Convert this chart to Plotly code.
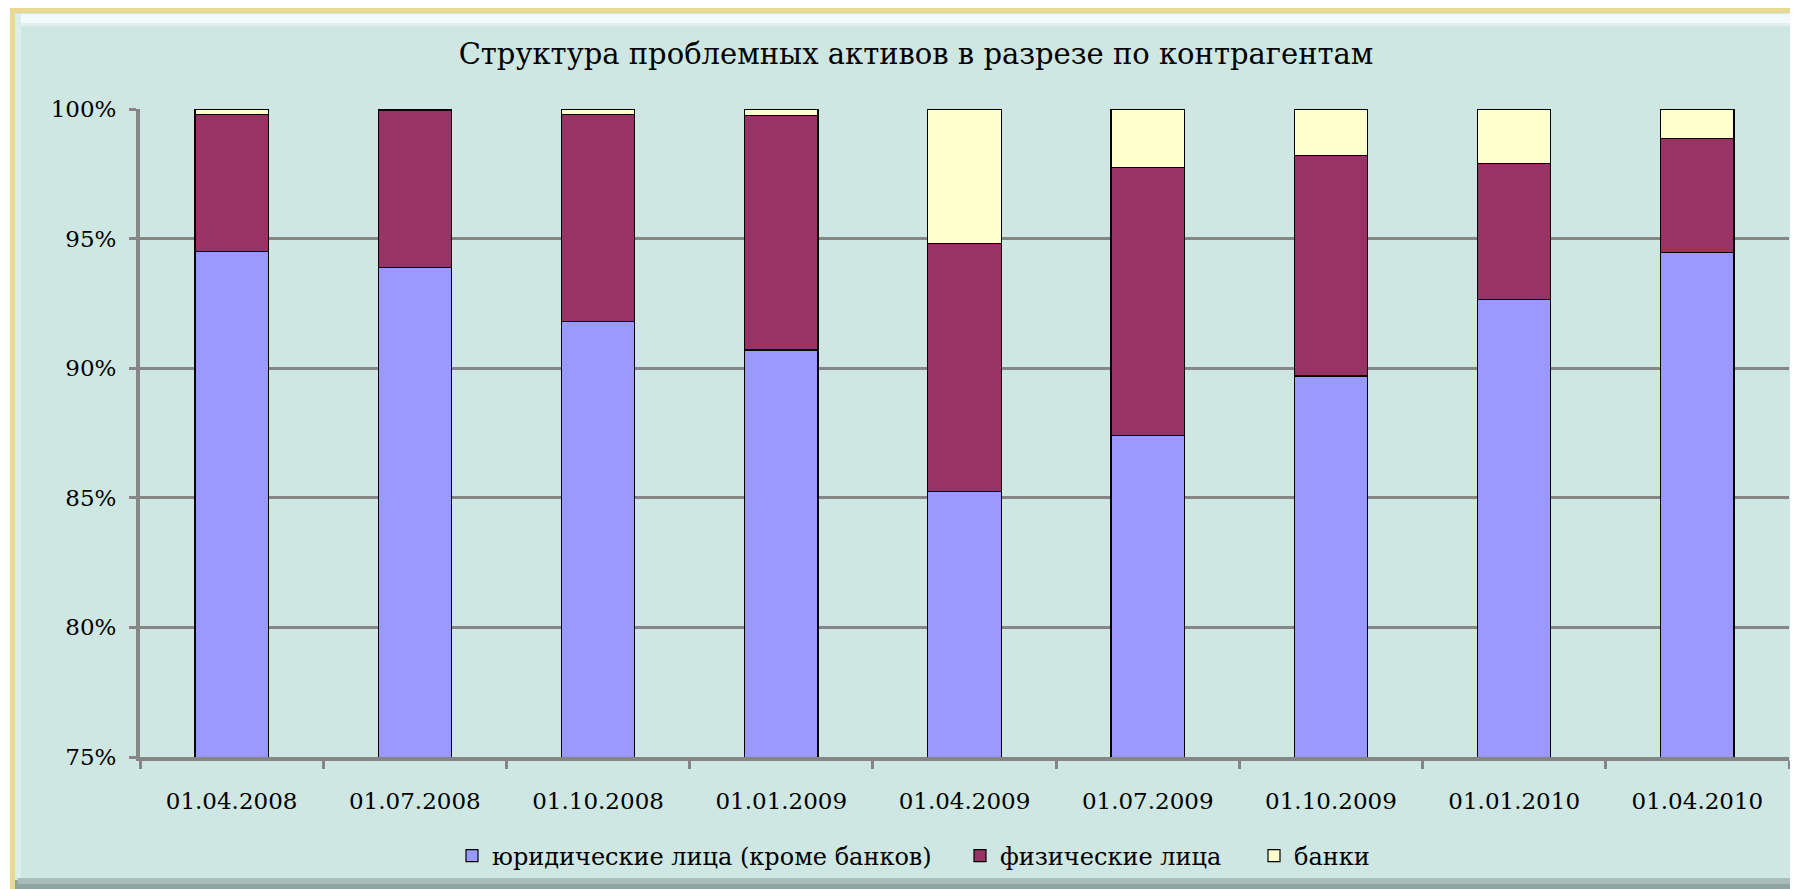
import plotly.graph_objects as go

dates = ["01.04.2008", "01.07.2008", "01.10.2008", "01.01.2009", "01.04.2009",
         "01.07.2009", "01.10.2009", "01.01.2010", "01.04.2010"]
legal = [94.5, 93.9, 91.8, 90.7, 85.25, 87.4, 89.7, 92.65, 94.45]
individuals = [5.3, 6.05, 8.0, 9.05, 9.55, 10.35, 8.5, 5.25, 4.4]
banks = [0.2, 0.05, 0.2, 0.25, 5.2, 2.25, 1.8, 2.1, 1.15]

series_names = ["юридические лица (кроме банков)", "физические лица", "банки"]
series_colors = ["#9999FF", "#993366", "#FFFFCC"]

SERIF = "DejaVu Serif, Liberation Serif, serif"

# page has an 8px body margin; figure coords = reference coords - OFF
OFF = 8
W, H = 1798 - OFF, 889 - OFF
L, T = 140 - OFF, 109 - OFF
R = W - (1789 - OFF)
B = H - (757 - OFF)
PW, PH = W - L - R, H - T - B


def px(X):
    return (X - OFF - L) / PW


def py(Y):
    return 1 - (Y - OFF - T) / PH


legend_ids = ["legend", "legend2", "legend3"]
legend_left = [452, 960, 1254]

fig = go.Figure()
for name, vals, col, lid in zip(series_names, [legal, individuals, banks],
                                series_colors, legend_ids):
    fig.add_trace(go.Bar(
        x=dates, y=vals, name=name, legend=lid,
        marker=dict(color=col, line=dict(color="#000000", width=1.2)),
    ))


def rect(x0, y0, x1, y1, color):
    return dict(type="rect", xref="paper", yref="paper", layer="below",
                x0=px(x0), x1=px(x1), y0=py(y1), y1=py(y0),
                fillcolor=color, line=dict(width=0))


shapes = [
    rect(10, 8, 1800, 892, "#E9D995"),     # tan outer border
    rect(15, 13, 1800, 892, "#8FA3A0"),    # shadow
    rect(15, 13, 1793, 880, "#CFE7E2"),    # teal panel
    rect(17, 14, 1793, 23, "#F2FBFA"),     # top highlight
    rect(17, 23, 1793, 26, "#E0F1EE"),
    rect(15, 14, 21, 878, "#DDEFEC"),      # left highlight
    rect(18, 878, 1793, 884, "#A9BDBA"),   # bottom shading
]

legend_common = dict(
    orientation="h", xanchor="left", yanchor="middle",
    font=dict(family=SERIF, size=24, color="#000000"),
    bgcolor="rgba(0,0,0,0)", itemwidth=30,
)

fig.update_layout(
    width=W, height=H,
    margin=dict(l=L, r=R, t=T, b=B, autoexpand=False),
    barmode="stack",
    bargap=0.6,
    paper_bgcolor="#FFFFFF",
    plot_bgcolor="#FFFFFF",
    shapes=shapes,
    title=dict(text="Структура проблемных активов в разрезе по контрагентам",
               x=px(916), xref="paper", xanchor="center",
               y=1 - (54 - OFF) / H, yref="container", yanchor="middle",
               font=dict(family=SERIF, size=29, color="#000000")),
    font=dict(family=SERIF, color="#000000"),
    xaxis=dict(
        type="category",
        tickson="boundaries",
        ticks="outside", ticklen=8, tickwidth=3, tickcolor="#868686",
        showline=True, linecolor="#868686", linewidth=4,
        showgrid=False,
        tickfont=dict(family=SERIF, size=23, color="#000000"),
        ticklabelstandoff=20,
    ),
    yaxis=dict(
        range=[75, 100],
        tickvals=[75, 80, 85, 90, 95, 100],
        ticktext=["75%", "80%", "85%", "90%", "95%", "100%"],
        ticks="outside", ticklen=7, tickwidth=3, tickcolor="#868686",
        showline=True, linecolor="#868686", linewidth=4,
        showgrid=True, gridcolor="#868686", gridwidth=3,
        zeroline=False,
        tickfont=dict(family=SERIF, size=23, color="#000000"),
        ticklabelstandoff=8,
    ),
    legend=dict(x=px(legend_left[0]), y=py(856), **legend_common),
    legend2=dict(x=px(legend_left[1]), y=py(856), **legend_common),
    legend3=dict(x=px(legend_left[2]), y=py(856), **legend_common),
    showlegend=True,
)

fig.write_html("out.html")
